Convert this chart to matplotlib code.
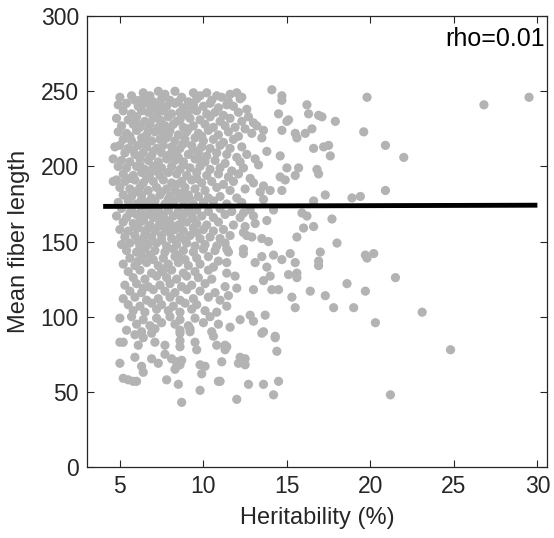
#!/usr/bin/env python
import numpy as np
import matplotlib
matplotlib.use("Agg")
import matplotlib.pyplot as plt

# (heritability %, mean fiber length)
points_dense = [
    (6.4, 249), (6.8, 247), (7.3, 250), (7.7, 248), (8.3, 250), (9.4, 249), (9.8, 247), (10.2, 249), (11.6, 248), (12.0, 249), (12.3, 246),
    (5.0, 246), (5.9, 244), (6.6, 246), (7.0, 243), (7.5, 245), (8.0, 244), (8.7, 246), (9.1, 243), (9.6, 245), (10.5, 244), (11.1, 246), (11.5, 243), (12.2, 245),
    (4.9, 241), (5.4, 242), (6.1, 240), (6.5, 242), (6.9, 239), (7.4, 241), (7.8, 240), (8.3, 242), (8.8, 239), (9.4, 241), (10.0, 240), (10.4, 242), (10.9, 239), (11.4, 241), (11.8, 240), (12.6, 238),
    (5.2, 237), (5.7, 235), (6.3, 237), (6.7, 236), (7.2, 234), (7.6, 237), (8.1, 235), (8.6, 236), (9.0, 234), (9.6, 237), (10.2, 235), (10.7, 236), (11.2, 234), (12.1, 236), (12.7, 233),
    (4.8, 232), (5.5, 231), (6.0, 233), (6.5, 230), (7.0, 232), (7.4, 231), (7.9, 233), (8.4, 230), (9.2, 232), (9.8, 231), (10.4, 233), (11.0, 230), (11.6, 232), (12.3, 230), (13.0, 229),
    (5.1, 227), (5.8, 228), (6.2, 226), (6.8, 228), (7.3, 226), (7.7, 227), (8.2, 228), (8.8, 226), (9.4, 227), (10.1, 228), (10.6, 226), (11.3, 227), (11.9, 226), (12.5, 225), (13.2, 227), (13.6, 224),
    (4.9, 223), (5.4, 222), (6.0, 224), (6.6, 221), (7.1, 223), (7.6, 222), (8.0, 224), (8.5, 221), (9.0, 223), (9.7, 222), (10.3, 224), (10.9, 221), (11.5, 223), (12.1, 220), (12.9, 222),
    (5.2, 218), (5.7, 217), (6.3, 219), (6.9, 217), (7.4, 218), (7.8, 219), (8.3, 217), (8.9, 218), (9.5, 219), (10.0, 217), (10.6, 218), (11.2, 216), (11.8, 218), (13.5, 219),
    (4.7, 213), (5.0, 214), (5.5, 212), (6.1, 214), (6.6, 213), (7.2, 212), (7.6, 214), (8.1, 213), (8.6, 212), (9.3, 214), (9.9, 213), (10.4, 212), (11.0, 214), (11.6, 212), (12.3, 213),
    (5.3, 209), (5.9, 208), (6.4, 209), (6.9, 207), (7.5, 209), (8.0, 208), (8.4, 210), (9.1, 208), (9.7, 209), (10.2, 207), (10.8, 209), (11.4, 208), (12.0, 206), (12.6, 208), (13.1, 205),
    (4.6, 205), (5.1, 204), (5.6, 203), (6.2, 205), (6.7, 204), (7.3, 203), (7.8, 205), (8.3, 204), (8.8, 203), (9.5, 205), (10.1, 203), (10.7, 204), (11.3, 202), (12.2, 203), (13.8, 210),
    (4.9, 200), (5.4, 199), (6.0, 200), (6.5, 198), (7.0, 200), (7.5, 199), (8.1, 200), (8.6, 198), (9.2, 199), (9.8, 200), (10.4, 198), (11.0, 199), (11.7, 197), (12.4, 199), (13.3, 201),
    (5.2, 195), (5.8, 194), (6.3, 196), (6.8, 195), (7.4, 194), (7.9, 196), (8.4, 195), (9.0, 194), (9.6, 196), (10.2, 194), (10.9, 195), (11.5, 193), (12.1, 195), (12.8, 192),
    (4.8, 191), (5.3, 190), (5.9, 191), (6.4, 189), (7.0, 190), (7.6, 191), (8.1, 189), (8.7, 190), (9.3, 191), (9.9, 189), (10.5, 190), (11.2, 188), (11.8, 190), (13.0, 189),
    (5.0, 186), (5.6, 185), (6.2, 186), (6.7, 184), (7.2, 186), (7.8, 185), (8.3, 184), (8.9, 186), (9.5, 185), (10.1, 184), (10.8, 186), (11.6, 184), (12.5, 185), (13.4, 183),
    (4.6, 190), (5.2, 181), (5.7, 180), (6.3, 181), (6.9, 179), (7.4, 181), (8.0, 180), (8.5, 179), (9.1, 181), (9.7, 180), (10.3, 179), (11.0, 180), (12.0, 179),
    (4.9, 176), (5.5, 177), (6.0, 175), (6.6, 176), (7.1, 177), (7.7, 175), (8.2, 176), (8.8, 177), (9.4, 175), (10.0, 176), (10.6, 177), (11.4, 175), (12.3, 176), (13.6, 178),
    (5.1, 172), (5.7, 171), (6.3, 172), (6.8, 170), (7.3, 172), (7.9, 171), (8.5, 170), (9.1, 172), (9.6, 171), (10.3, 170), (11.0, 172), (11.7, 170), (12.8, 171),
    (4.8, 167), (5.4, 166), (6.0, 168), (6.5, 167), (7.0, 166), (7.6, 168), (8.2, 167), (8.7, 166), (9.3, 168), (9.9, 167), (10.6, 166), (11.3, 168), (12.2, 166),
    (5.2, 163), (5.8, 162), (6.2, 163), (6.8, 161), (7.4, 163), (8.0, 162), (8.5, 161), (9.0, 163), (9.6, 162), (10.2, 161), (10.9, 163), (11.8, 161),
    (5.0, 158), (5.5, 157), (6.1, 159), (6.6, 158), (7.1, 157), (7.7, 159), (8.3, 158), (8.8, 157), (9.4, 159), (10.0, 158), (10.6, 157), (11.2, 158), (12.5, 160), (13.1, 162),
    (5.3, 153), (5.9, 154), (6.4, 152), (6.9, 153), (7.5, 154), (8.1, 152), (8.6, 153), (9.2, 154), (9.8, 152), (10.4, 153), (11.0, 152), (11.6, 154), (12.4, 156),
    (5.1, 148), (5.6, 149), (6.2, 147), (6.7, 148), (7.2, 149), (7.8, 147), (8.4, 148), (9.0, 149), (9.5, 147), (10.1, 148), (10.8, 147), (11.3, 149),
    (5.4, 144), (6.0, 143), (6.5, 145), (7.1, 144), (7.7, 143), (8.2, 145), (8.8, 144), (9.4, 143), (10.0, 145), (10.7, 144), (11.5, 143),
]

# extra points packed in the busiest part of the cloud
points_fill = [
    (5.7, 247), (6.2, 244), (7.2, 238), (8.5, 243), (9.3, 238), (10.8, 247), (6.0, 229), (6.7, 225), (7.5, 229),
    (8.6, 231), (9.1, 225), (5.6, 220), (6.5, 216), (7.9, 221), (8.8, 215), (9.9, 220), (5.8, 211), (7.0, 210),
    (8.5, 206), (9.4, 211), (6.2, 201), (7.2, 197), (8.8, 201), (9.9, 204), (5.6, 192), (6.6, 192), (8.4, 188),
    (9.6, 192), (5.9, 183), (7.5, 183), (8.7, 182), (6.3, 178), (7.9, 178), (9.2, 178), (5.6, 169), (7.2, 168),
    (8.9, 169), (6.4, 164), (7.8, 164), (9.4, 165), (5.9, 160), (7.3, 160), (8.6, 160), (6.5, 155), (8.0, 156),
    (9.6, 156), (6.1, 150), (7.5, 151), (8.9, 151), (6.8, 141), (8.5, 141), (6.1, 137), (7.7, 132), (6.4, 119),
]

points_lower = [
    (5.6, 139), (6.3, 140), (7.0, 138), (7.6, 139), (8.3, 140), (8.9, 138), (9.6, 139), (10.3, 140), (10.9, 137),
    (5.2, 135), (5.9, 134), (6.6, 136), (7.3, 134), (7.9, 135), (8.5, 136), (9.1, 134), (9.8, 135), (10.6, 133), (11.4, 136),
    (5.5, 130), (6.2, 131), (6.9, 129), (7.5, 130), (8.1, 131), (8.8, 129), (9.5, 130), (10.3, 131), (11.4, 129),
    (5.8, 126), (6.5, 125), (7.2, 127), (7.8, 126), (8.4, 125), (9.0, 127), (9.7, 126), (10.5, 125), (11.9, 127),
    (5.3, 121), (6.0, 122), (6.7, 120), (7.4, 121), (8.0, 122), (8.7, 120), (9.3, 121), (10.1, 122), (11.3, 120), (12.0, 119),
    (5.6, 117), (6.3, 116), (7.0, 118), (7.7, 117), (8.3, 116), (9.0, 118), (9.8, 117), (10.7, 116), (11.5, 114),
    (5.2, 112), (5.9, 113), (6.6, 111), (7.3, 112), (8.0, 113), (8.6, 111), (9.4, 112), (10.3, 113), (11.0, 111),
    (5.5, 108), (6.2, 107), (6.9, 109), (7.5, 108), (8.2, 107), (8.9, 109), (9.6, 108), (11.4, 107),
    (5.8, 104), (6.5, 103), (7.2, 105), (7.9, 104), (8.6, 103), (9.3, 105), (10.1, 104), (10.8, 103),
    (5.0, 99), (5.7, 100), (6.4, 98), (7.2, 99), (8.0, 100), (8.6, 98), (9.5, 99), (10.4, 100),
    (6.0, 95), (6.8, 94), (7.5, 96), (8.3, 95), (9.1, 94), (10.0, 96), (10.9, 95), (11.6, 93),
    (5.4, 91), (6.3, 90), (7.1, 92), (8.6, 91), (9.2, 92), (10.5, 90),
    (5.0, 83), (5.2, 83), (5.9, 88), (6.1, 81), (6.4, 86), (6.9, 89), (7.1, 83), (7.7, 81), (8.6, 89), (8.6, 84),
    (8.6, 80), (9.2, 90), (9.5, 83), (9.6, 78), (10.6, 87), (10.8, 81), (11.4, 80), (5.9, 73), (5.0, 69), (6.3, 67),
    (6.4, 63), (6.9, 72), (7.3, 69), (7.7, 75), (8.1, 72), (8.4, 70), (8.4, 67), (8.7, 71), (8.6, 68), (8.3, 65),
    (5.2, 59), (5.5, 58), (5.8, 57), (6.0, 57), (7.8, 58), (8.5, 55), (9.8, 68), (10.1, 67), (9.9, 62), (9.8, 51),
    (10.9, 57), (11.1, 70), (8.7, 43), (11.3, 81), (11.3, 78), (12.1, 69), (12.5, 72), (11.0, 57), (12.7, 55), (12.0, 45),
    (12.2, 73), (12.5, 68),
]

points_sparse = [
    (14.1, 251), (14.7, 247), (14.7, 244), (16.2, 241), (16.3, 235), (16.9, 234), (17.1, 233), (17.9, 230), (19.8, 246), (19.6, 223),
    (14.5, 235), (15.1, 231), (15.0, 230), (14.7, 224), (15.5, 222), (15.6, 219), (16.1, 222), (16.5, 225), (16.6, 212), (17.2, 213),
    (17.5, 214), (17.6, 207), (14.6, 207), (15.0, 199), (15.7, 199), (15.5, 194), (14.6, 193), (14.9, 191), (16.8, 198), (16.9, 195),
    (14.7, 184), (17.3, 181), (18.9, 179), (19.4, 180), (16.6, 177), (14.0, 184), (13.6, 187), (26.8, 241), (29.5, 246), (20.9, 214),
    (22.0, 206), (20.9, 184),
    (14.2, 171), (12.4, 169), (13.0, 167), (13.8, 164), (15.9, 169), (16.2, 167), (17.7, 165), (16.0, 159), (16.6, 160), (15.6, 153),
    (18.0, 149), (12.6, 154), (12.9, 153), (13.5, 152), (13.9, 150), (12.4, 145), (12.4, 142), (11.4, 145), (13.1, 136), (13.5, 140),
    (13.8, 133), (14.2, 141), (14.7, 138), (15.2, 142), (15.5, 136), (15.1, 128), (15.6, 129), (15.6, 126), (17.0, 143), (16.9, 137),
    (16.9, 134), (19.7, 141), (19.8, 139), (20.2, 142), (13.6, 124), (14.0, 127), (13.0, 118), (14.1, 118), (14.5, 118), (15.3, 113),
    (15.5, 106), (16.4, 117), (17.3, 114), (17.8, 106), (18.6, 122), (19.0, 106), (19.7, 117), (21.5, 126), (23.1, 103), (20.3, 96),
    (24.8, 78), (21.2, 48), (12.8, 101), (13.7, 101), (12.2, 98), (13.0, 97), (13.6, 90), (14.3, 87),
    (13.5, 89), (14.3, 86), (14.4, 77), (13.6, 55), (14.5, 57), (14.2, 48),
]

# fitted line end points
fit_x = [4.0, 30.0]
fit_y = [173.4, 174.2]

rho_text = "rho=0.01"
x_ticks = [5, 10, 15, 20, 25, 30]
y_ticks = [0, 50, 100, 150, 200, 250, 300]

plt.rcParams['font.family'] = ['Liberation Sans', 'DejaVu Sans']
ink = '#262626'


def main():
    pts = np.array(points_dense + points_fill + points_lower + points_sparse, dtype=float)
    heritability, fiber_length = pts[:, 0], pts[:, 1]

    fig = plt.figure(figsize=(5.54, 5.38), dpi=100)
    ax = fig.add_axes([0.1576, 0.132, 0.829, 0.838])

    ax.scatter(heritability, fiber_length, s=44, color='#b3b3b3', edgecolors='none', zorder=2)
    ax.plot(fit_x, fit_y, color='black', linewidth=3.5, solid_capstyle='butt', zorder=3)

    ax.set_xlim(3.05, 30.55)
    ax.set_ylim(0, 300)
    ax.set_xticks(x_ticks)
    ax.set_yticks(y_ticks)
    ax.tick_params(direction='in', top=True, right=True, length=5, width=0.8,
                   labelsize=16.5, colors=ink, pad=6)
    for s in ax.spines.values():
        s.set_color(ink)
        s.set_linewidth(0.9)

    ax.set_xlabel("Heritability (%)", fontsize=17, color=ink, labelpad=6)
    ax.set_ylabel("Mean fiber length", fontsize=17, color=ink, labelpad=8)
    ax.text(0.996, 0.975, rho_text, transform=ax.transAxes, ha='right', va='top',
            fontsize=18, color='black')

    fig.savefig("out.png", dpi=100)


if __name__ == "__main__":
    main()
